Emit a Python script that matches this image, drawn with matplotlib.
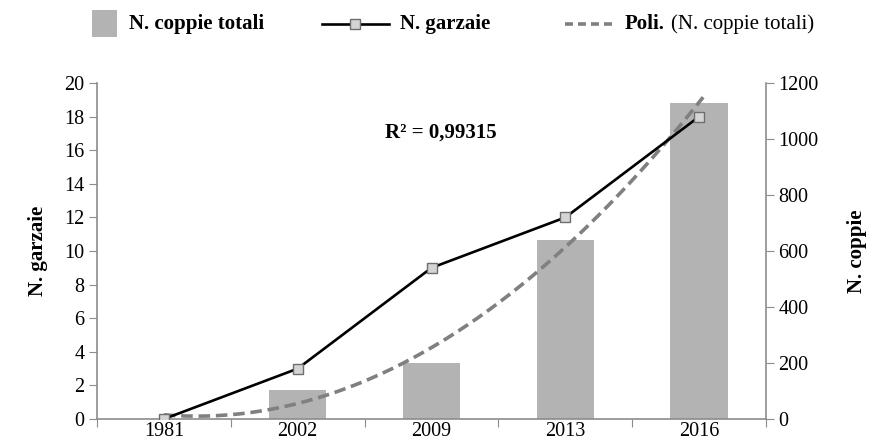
import matplotlib.pyplot as plt
import numpy as np
from matplotlib.lines import Line2D
from matplotlib.patches import Rectangle

plt.rcParams["font.family"] = ["Liberation Serif", "DejaVu Serif"]

anni = ["1981", "2002", "2009", "2013", "2016"]
n_garzaie = [0, 3, 9, 12, 18]
n_coppie = [0, 104, 200, 639, 1128]

GRIGIO_ASSE = "#8c8c8c"
GRIGIO_BARRE = "#b3b3b3"
GRIGIO_TREND = "#808080"
W, H = 870, 447

x = np.arange(1, len(anni) + 1)

# trend polinomiale di 2° grado sulle coppie (come Excel)
coeff = np.polyfit(x, n_coppie, 2)
xs = np.linspace(1, 5.03, 200)
trend = np.polyval(coeff, xs)

fig = plt.figure(figsize=(8.7, 4.47), dpi=100)
ax = fig.add_axes([0.1115, 0.0626, 0.769, 0.7517])
ax2 = ax.twinx()

ax2.bar(x, n_coppie, width=0.43, color=GRIGIO_BARRE, zorder=1)
ax2.plot(xs, trend, color=GRIGIO_TREND, lw=2.6, dashes=(3.2, 1.6), zorder=2)

ax.plot(x, n_garzaie, color="black", lw=1.9, marker="s", markersize=6.5,
        markerfacecolor="#d4d4d4", markeredgecolor="#6e6e6e",
        markeredgewidth=1.0, zorder=3)

ax.set_zorder(ax2.get_zorder() + 1)
ax.patch.set_visible(False)

ax.set_xlim(0.5, 5.5)
ax.set_ylim(0, 20)
ax2.set_ylim(0, 1200)
ax.set_yticks(range(0, 21, 2))
ax2.set_yticks(range(0, 1201, 200))

ax.set_xticks(np.arange(0.5, 5.6, 1))
ax.set_xticklabels([])
ax.set_xticks(x, minor=True)
ax.set_xticklabels(anni, minor=True)
ax.tick_params(axis="x", which="minor", length=0, pad=2, labelsize=14.5)
ax.tick_params(axis="x", which="major", length=6, color=GRIGIO_ASSE)
ax.tick_params(axis="y", length=6, color=GRIGIO_ASSE, labelsize=14.5, pad=3)
ax2.tick_params(axis="y", length=6, color=GRIGIO_ASSE, labelsize=14.5, pad=3)

for a in (ax, ax2):
    a.spines["top"].set_visible(False)
    for s in ("left", "right", "bottom"):
        a.spines[s].set_color(GRIGIO_ASSE)
        a.spines[s].set_linewidth(1.2)
ax.spines["right"].set_visible(False)
ax2.spines["left"].set_visible(False)
ax2.spines["bottom"].set_visible(False)

ax.set_ylabel("N. garzaie", fontsize=15, fontweight="bold", labelpad=12)
ax2.set_ylabel("N. coppie", fontsize=15, fontweight="bold", labelpad=20)

ax.text(0.514, 0.851, "R² = 0,99315", transform=ax.transAxes,
        fontsize=15, fontweight="bold", ha="center", va="center")

# legenda disegnata a mano in alto
yc = 1 - 24 / H
fig.patches.append(Rectangle((92 / W, 1 - 37 / H), 25 / W, 27 / H,
                             transform=fig.transFigure, facecolor=GRIGIO_BARRE,
                             edgecolor="none"))
fig.text(129 / W, yc, "N. coppie totali", fontsize=15, fontweight="bold",
         va="center")

fig.lines.append(Line2D([322 / W, 389 / W], [yc, yc], transform=fig.transFigure,
                        color="black", lw=1.9))
fig.lines.append(Line2D([355 / W], [yc], transform=fig.transFigure,
                        marker="s", markersize=6.5, markerfacecolor="#d4d4d4",
                        markeredgecolor="#6e6e6e", markeredgewidth=1.0))
fig.text(400 / W, yc, "N. garzaie", fontsize=15, fontweight="bold", va="center")

fig.lines.append(Line2D([565 / W, 613 / W], [yc, yc], transform=fig.transFigure,
                        color=GRIGIO_TREND, lw=2.6, dashes=(2.2, 1.4)))
fig.text(625 / W, yc, "Poli.", fontsize=15, fontweight="bold", va="center")
fig.text(671 / W, yc, "(N. coppie totali)", fontsize=15, va="center")

fig.savefig("out.png", dpi=100)
